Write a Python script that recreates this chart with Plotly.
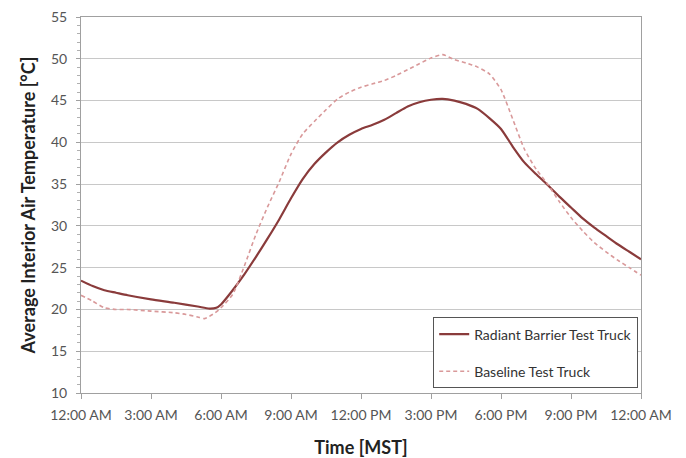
import plotly.graph_objects as go

# Time in hours after midnight (MST)
hours_rb = [0, 0.5, 1, 1.5, 2, 3, 4, 5, 5.5, 5.8, 6, 6.5, 7, 7.5, 8, 8.5, 9, 9.5, 10, 10.5,
            11, 11.5, 12, 12.5, 13, 13.5, 14, 14.5, 15, 15.5, 16, 16.5, 17, 17.5, 18, 18.5,
            19, 19.5, 20, 20.5, 21, 21.5, 22, 22.5, 23, 23.5, 24]
radiant_barrier = [23.45, 22.8, 22.3, 22.0, 21.7, 21.2, 20.8, 20.35, 20.1, 20.2, 20.6, 22.3,
                   24.2, 26.3, 28.5, 30.8, 33.3, 35.6, 37.4, 38.8, 40.0, 40.9, 41.6, 42.1,
                   42.7, 43.5, 44.3, 44.8, 45.1, 45.2, 45.0, 44.6, 44.0, 42.9, 41.6, 39.5,
                   37.6, 36.2, 34.9, 33.5, 32.2, 30.9, 29.8, 28.8, 27.8, 26.9, 26.0]

hours_bl = [0, 0.5, 1, 1.5, 2, 3, 4, 4.5, 5, 5.3, 5.75, 6, 6.5, 7, 7.5, 8, 8.5, 9, 9.5, 10,
            10.5, 11, 11.5, 12, 12.5, 13, 13.5, 14, 14.5, 15, 15.5, 16, 16.5, 17, 17.5, 18,
            18.5, 19, 19.5, 20, 20.5, 21, 21.5, 22, 22.5, 23, 23.5, 24]
baseline = [21.7, 21.0, 20.2, 20.0, 20.0, 19.8, 19.6, 19.4, 19.1, 18.9, 19.6, 20.2, 21.8,
            25.2, 29.0, 32.3, 35.3, 38.6, 41.0, 42.5, 43.9, 45.2, 46.0, 46.6, 47.0, 47.4,
            48.0, 48.7, 49.4, 50.1, 50.5, 49.9, 49.5, 49.0, 48.2, 46.3, 42.8, 39.2, 36.8,
            35.0, 32.9, 31.0, 29.4, 28.0, 26.9, 25.9, 25.0, 24.1]

tick_hours = [0, 3, 6, 9, 12, 15, 18, 21, 24]
tick_labels = ["12:00 AM", "3:00 AM", "6:00 AM", "9:00 AM", "12:00 PM",
               "3:00 PM", "6:00 PM", "9:00 PM", "12:00 AM"]

FONT = "Lato, 'Open Sans', sans-serif"

fig = go.Figure()
fig.add_trace(go.Scatter(
    x=hours_rb, y=radiant_barrier, mode="lines", name="Radiant Barrier Test Truck",
    line=dict(color="#8a3b3b", width=2.2, shape="spline", smoothing=0.6),
    legendgroup="a"))
fig.add_trace(go.Scatter(
    x=hours_bl, y=baseline, mode="lines", name="Baseline Test Truck",
    line=dict(color="#d9999a", width=1.6, dash="4px,3px", shape="spline", smoothing=0.6),
    legendgroup="b"))

# The page body adds an 8px offset, so the figure is sized to fit the window.
fig.update_layout(
    width=678, height=450,
    margin=dict(l=73, r=45, t=9, b=65, autoexpand=False),
    paper_bgcolor="white", plot_bgcolor="white",
    font=dict(family=FONT, size=14, color="#555555"),
    showlegend=True,
    legend=dict(
        x=0.995, xanchor="right", y=0.012, yanchor="bottom",
        bgcolor="white", bordercolor="#555555", borderwidth=1,
        font=dict(family=FONT, size=14, color="#333333"),
        tracegroupgap=16, itemwidth=30),
    xaxis=dict(
        range=[0, 24], tickvals=tick_hours, ticktext=tick_labels, automargin=False,
        showgrid=False, zeroline=False,
        showline=True, linecolor="#a0a0a0", linewidth=1, mirror=True,
        ticks="outside", ticklen=5, tickcolor="#a0a0a0", ticklabelstandoff=4,
        ticklabeloverflow="allow",
        title=dict(text="<b>Time [MST]</b>", font=dict(family=FONT, size=18, color="#222222"),
                   standoff=20)),
    yaxis=dict(
        range=[10, 55], dtick=5, automargin=False,
        showgrid=True, gridcolor="#c8c8c8", gridwidth=1, zeroline=False,
        showline=True, linecolor="#a0a0a0", linewidth=1, mirror=True,
        ticks="outside", ticklen=4, tickcolor="#a0a0a0", ticklabelstandoff=6,
        ticklabeloverflow="allow",
        minor=dict(dtick=1, ticks="outside", ticklen=3, tickcolor="#b0b0b0", showgrid=False),
        title=dict(text="<b>Average Interior Air Temperature [°C]</b>",
                   font=dict(family=FONT, size=18, color="#222222"), standoff=10)),
)

fig.write_html("out.html")
